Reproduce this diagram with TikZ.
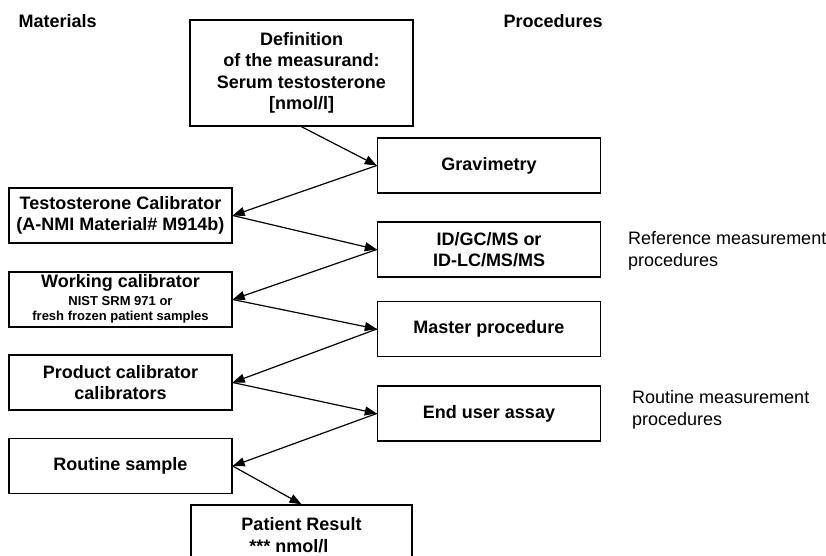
\documentclass[tikz,border=0pt]{standalone}
\usepackage{fontspec}
\setmainfont{Liberation Sans}
\usetikzlibrary{arrows.meta}
\newcommand{\smalltext}{\fontsize{13}{15}\selectfont}
\begin{document}
\begin{tikzpicture}[
 x=1pt,y=-1pt,
 font=\fontsize{18}{21.5}\selectfont,
 box/.style={draw,line width=1.4pt,align=center,font=\fontsize{18}{21.5}\selectfont\bfseries,
  minimum width=223pt,minimum height=55pt,inner sep=2pt},
 link/.style={line width=1.2pt,-{Triangle[length=12pt,width=9pt]}},
 head/.style={font=\fontsize{18}{21.5}\selectfont\bfseries,anchor=west},
 note/.style={align=left,anchor=west,inner sep=0pt}
]
\useasboundingbox (0,0) rectangle (826,555);
\node[head] (mat) at (15,21) {Materials};
\node[head] (proc) at (500,21) {Procedures};
\node[box,minimum height=106pt] (def) at (301.5,73) {Definition\\of the measurand:\\Serum testosterone\\{}[nmol/l]};
\node[box] (grav) at (489,165.5) {Gravimetry};
\node[box] (idgc) at (489,249.5) {ID/GC/MS or\\ID-LC/MS/MS};
\node[box] (master) at (489,329) {Master procedure};
\node[box] (assay) at (489,413.5) {End user assay};
\node[box] (testo) at (120.5,215.5) {Testosterone Calibrator\\(A-NMI Material\# M914b)};
\node[box] (work) at (120.5,299.5) {Working calibrator\\[-4pt]{\smalltext\begin{tabular}[t]{@{}c@{}}NIST SRM 971 or\\fresh frozen patient samples\end{tabular}}};
\node[box] (prod) at (120.5,382.5) {Product calibrator\\calibrators};
\node[box] (rout) at (120.5,466) {Routine sample};
\node[box,minimum width=221pt,minimum height=60pt] (pat) at (301.5,535) {Patient Result\\***~nmol/l\hspace*{1.4em}};
\node[note] (refnote) at (628,251) {Reference measurement\\procedures};
\node[note] (routnote) at (632,410) {Routine measurement\\procedures};
\draw[link] (def.south) -- (grav.west);
\draw[link] (grav.west) -- (testo.east);
\draw[link] (testo.east) -- (idgc.west);
\draw[link] (idgc.west) -- (work.east);
\draw[link] (work.east) -- (master.west);
\draw[link] (master.west) -- (prod.east);
\draw[link] (prod.east) -- (assay.west);
\draw[link] (assay.west) -- (rout.east);
\draw[link] (rout.east) -- (pat.north);
\end{tikzpicture}
\end{document}
